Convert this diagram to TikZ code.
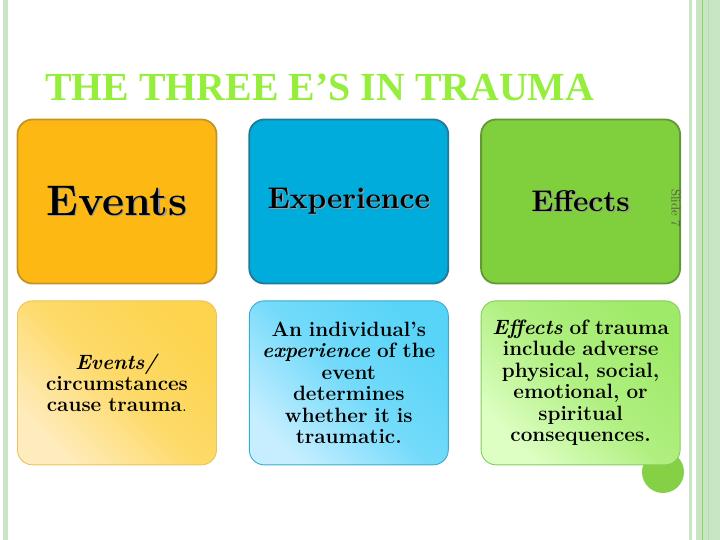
\documentclass[tikz,border=0pt]{standalone}
\usepackage{graphicx}
\usepackage{fontspec}
\newfontfamily\titlefont{Liberation Serif}
\usetikzlibrary{positioning}

\definecolor{titlegreen}{RGB}{150,238,60}
\definecolor{stripegreen}{RGB}{200,230,195}
\definecolor{stripedark}{RGB}{184,220,175}
\definecolor{stripeline}{RGB}{140,210,100}
\definecolor{eventsfill}{RGB}{253,184,19}
\definecolor{eventsedge}{RGB}{196,148,40}
\definecolor{expfill}{RGB}{0,172,219}
\definecolor{expedge}{RGB}{32,122,150}
\definecolor{effectsfill}{RGB}{127,208,60}
\definecolor{effectsedge}{RGB}{98,152,52}
\definecolor{eventslight}{RGB}{255,236,190}
\definecolor{eventsmid}{RGB}{253,212,78}
\definecolor{eventsline}{RGB}{232,196,92}
\definecolor{explight}{RGB}{198,238,255}
\definecolor{expmid}{RGB}{88,212,248}
\definecolor{expline}{RGB}{58,170,208}
\definecolor{effectslight}{RGB}{222,255,196}
\definecolor{effectsmid}{RGB}{160,234,106}
\definecolor{effectsline}{RGB}{134,204,88}
\definecolor{knobgreen}{RGB}{134,208,70}

\newcommand\shadowlabel[1]{\makebox[0pt][l]{\hspace{1.3bp}\raisebox{-1.3bp}{\color{black!40}#1}}#1}

\tikzset{
  headbox/.style={rounded corners=15bp, minimum width=199bp, minimum height=164bp,
    line width=1.8bp, inner sep=0pt, font=\fontsize{30}{30}\selectfont\bfseries},
  textbox/.style={rounded corners=15bp, minimum width=199bp, minimum height=164bp,
    line width=0.9bp, inner sep=0pt, text width=198bp, align=center,
    font=\fontsize{20.8}{21.5}\selectfont\bfseries},
  title/.style={text=titlegreen, font=\fontsize{40}{40}\selectfont\titlefont\bfseries, inner sep=0pt}
}

\begin{document}
\begin{tikzpicture}[x=1bp, y=-1bp]
  \useasboundingbox (0,0) rectangle (720,540);
  % side stripes
  \fill[stripegreen] (3,0) rectangle (8.3,540);
  \fill[stripegreen] (688.7,0) rectangle (692,540);
  \fill[stripegreen] (696,0) rectangle (720,540);
  \draw[stripeline, line width=1bp] (702.5,0) -- (702.5,540);
  \draw[stripedark, line width=1.3bp] (708.3,0) -- (708.3,540);

  \node[title, anchor=base west] (heading) at (45,101) {THE THREE E’S IN TRAUMA};

  \node[circle, fill=knobgreen, minimum size=42bp, inner sep=0pt] (knob) at (663,472) {};

  % top row
  \node[headbox, fill=eventsfill, draw=eventsedge, font=\fontsize{43}{43}\selectfont\bfseries]
    (events) at (117,201.5) {\shadowlabel{Events}};
  \node[headbox, fill=expfill, draw=expedge] (experience) [right=31bp of events] {\shadowlabel{Experience}};
  \node[headbox, fill=effectsfill, draw=effectsedge] (effects) [right=31bp of experience] {\shadowlabel{Effects}};

  % bottom row
  \node[textbox, bottom color=eventslight, top color=eventsmid, middle color=eventsmid!75!eventslight,
    shading angle=-45, draw=eventsline]
    (cause) [below=16bp of events] {\textit{Events/}\\ circumstances\\ cause trauma\textmd{.}};
  \node[textbox, bottom color=explight, top color=expmid, middle color=expmid!75!explight,
    shading angle=-45, draw=expline]
    (personal) [below=16bp of experience] {An individual’s\\ \textit{experience} of the\\ event\\ determines\\ whether it is\\ traumatic.};
  \node[textbox, bottom color=effectslight, top color=effectsmid, middle color=effectsmid!75!effectslight,
    shading angle=-45, draw=effectsline]
    (outcome) [below=16bp of effects] {\textit{Effects} of trauma\\ include adverse\\ physical, social,\\ emotional, or\\ spiritual\\ consequences.};

  \node[rotate=-90, text=black!68, font=\fontsize{13}{13}\selectfont, inner sep=0pt] (slideno) at (676,208) {Slide 7};
\end{tikzpicture}
\end{document}
